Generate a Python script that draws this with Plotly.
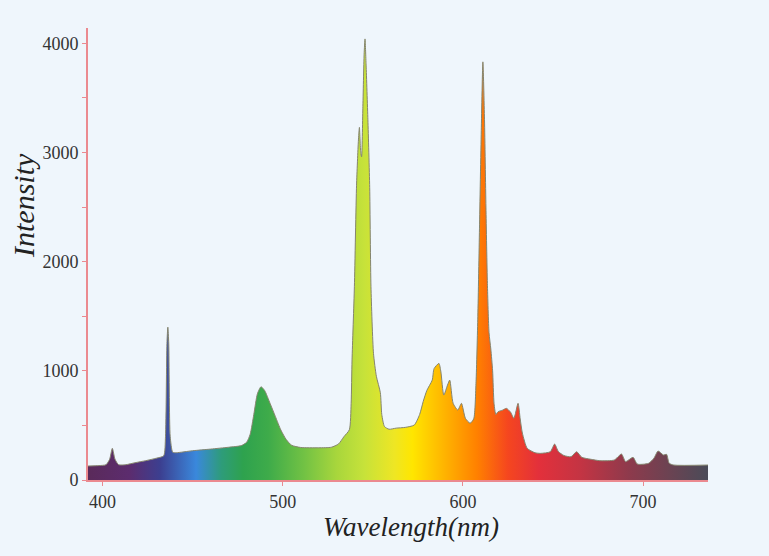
import plotly.graph_objects as go

wavelength = [392, 398, 402, 404, 405.5, 407, 409, 413, 418, 424, 430, 434,
              435.0, 435.8, 436.3, 436.8, 437.6, 439, 441, 450, 460, 470, 477, 480, 482, 484,
              486, 488, 490, 493, 496, 499, 502, 505, 510, 520, 527, 531, 534,
              537, 538, 538.5, 539.8, 541, 542, 542.6, 543.3, 543.8, 544.5,
              545.2, 545.7, 546.3, 547.3, 548.3, 549, 550.4, 552, 554.2, 555,
              556.5, 559, 563, 568, 573, 576, 578, 580, 583, 584, 586.7, 587.8,
              589.4, 591.5, 592.7, 594.6, 597.2, 599.2, 601.4, 604, 606, 607.3,
              608.3, 609.2, 610.2, 611.1, 612, 612.8, 613.6, 614.5, 615.5, 616.5,
              617.3, 618.3, 619.5, 622, 624.2, 626.5, 628.3, 630.6, 631.8, 633,
              635.7, 640, 643, 648.5, 650.9, 653, 656, 660, 663.1, 666, 671, 676,
              684, 688, 690.3, 694.4, 696.8, 703, 706, 708.3, 711.3, 713, 714.5,
              717, 736]
intensity = [128, 132, 140, 190, 290, 190, 140, 140, 158, 177, 200, 222,
             400, 1250, 1400, 1250, 400, 255, 250, 268, 283, 300, 315, 345, 420, 600,
             790, 854, 820, 703, 580, 458, 370, 318, 298, 295, 300, 330, 397,
             460, 700, 1100, 1770, 2700, 3100, 3230, 3000, 2960, 3400,
             3900, 4040, 3800, 3300, 2680, 1770, 1160, 950, 800, 600,
             490, 465, 475, 482, 503, 600, 720, 820, 915, 1020, 1068, 990,
             778, 870, 915, 702, 641, 702, 565, 520, 560, 900,
             1500, 2300, 3200, 3830, 3300, 2500, 1800, 1350, 1200, 1000,
             700, 600, 625, 640, 656, 620, 565, 702, 560, 430,
             290, 250, 244, 259, 329, 260, 225, 213, 259, 208, 190, 177,
             183, 238, 168, 208, 146, 153, 200, 265, 229, 235, 153,
             137, 137]

y_ticks = [0, 1000, 2000, 3000, 4000]
x_ticks = [400, 500, 600, 700]

spectrum_nm = [392, 415, 432, 452, 466, 478, 492, 512, 530, 545, 562, 572,
               590, 608, 625, 642, 665, 692, 736]
spectrum_col = ["#5a2a5a", "#5c2c6e", "#3c3f90", "#3a88dc", "#2e9c7a",
                "#2ea24e", "#3eab4a", "#72c244", "#a8d63c", "#c6e23a",
                "#eee624", "#ffe600", "#ffb300", "#ff8000", "#f5461f",
                "#e3303b", "#c43443", "#8e3a4c", "#4a4b58"]

lo, hi = wavelength[0], wavelength[-1]
colorscale = [[(w - lo) / (hi - lo), c] for w, c in zip(spectrum_nm, spectrum_col)]

fig = go.Figure()
fig.add_trace(go.Scatter(
    x=wavelength, y=intensity, mode="lines",
    line=dict(color="#85856e", width=1, shape="spline", smoothing=0.6),
    fill="tozeroy",
    fillgradient=dict(type="horizontal", colorscale=colorscale),
    hoverinfo="skip", showlegend=False,
))

axis_col = "#eb8a90"
serif = "Liberation Serif"

fig.update_layout(
    width=769, height=556,
    margin=dict(l=88, r=61, t=28, b=76),
    paper_bgcolor="#eff6fc", plot_bgcolor="#eff6fc",
    font=dict(family=serif, size=18, color="#333333"),
    xaxis=dict(range=[lo, hi], tickvals=x_ticks, showgrid=False, zeroline=False,
               showline=True, linecolor=axis_col, linewidth=2,
               ticks="outside", ticklen=4, tickcolor=axis_col, tickwidth=1,
               tickfont=dict(family=serif, size=18, color="#333333")),
    yaxis=dict(range=[0, 4140], tickvals=y_ticks, showgrid=False, zeroline=False,
               showline=True, linecolor=axis_col, linewidth=2,
               ticks="outside", ticklen=4, tickcolor=axis_col, tickwidth=1,
               minor=dict(tickvals=[500, 1500, 2500, 3500], ticks="outside",
                          ticklen=4, tickcolor=axis_col, tickwidth=1),
               tickfont=dict(family=serif, size=18, color="#333333")),
    annotations=[
        dict(text="<i>Wavelength(nm)</i>", x=411, y=527, xref="paper", yref="paper",
             showarrow=False, font=dict(family=serif, size=27, color="#222222")),
        dict(text="<i>Intensity</i>", x=24, y=206, xref="paper", yref="paper",
             showarrow=False, textangle=-90,
             font=dict(family=serif, size=30, color="#222222")),
    ],
)
# convert pixel-placed annotations to paper coordinates
pw, ph = 769 - 88 - 61, 556 - 28 - 76
for a in fig.layout.annotations:
    a.x = (a.x - 88) / pw
    a.y = (556 - 76 - a.y) / ph
    a.xanchor = "center"
    a.yanchor = "middle"

fig.write_html("out.html",
               config={"displayModeBar": False},
               post_script="document.body.style.margin='0';document.body.style.overflow='hidden';")
